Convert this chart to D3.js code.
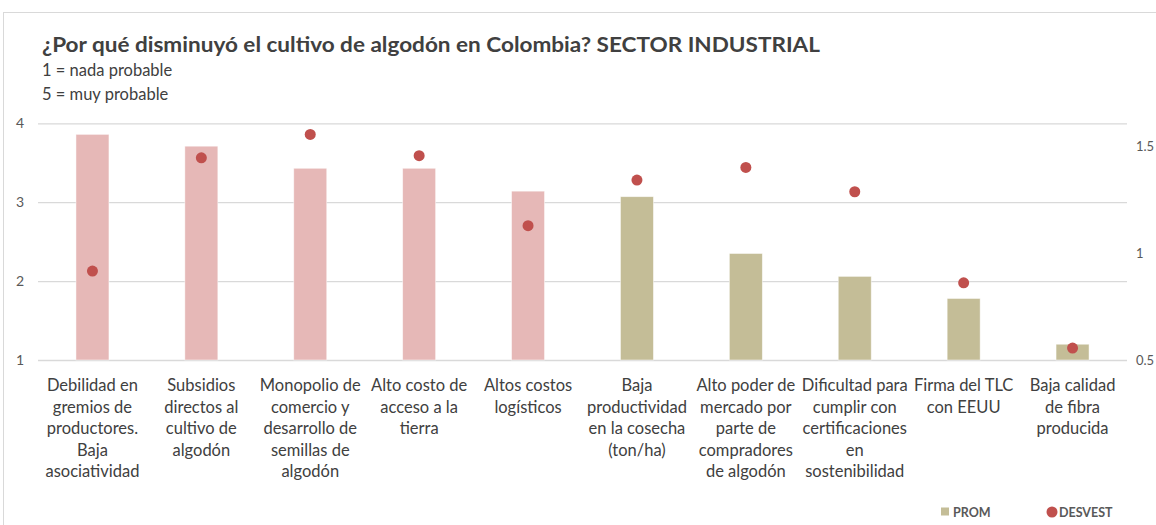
<!DOCTYPE html>
<html>
<head>
<meta charset="utf-8">
<script src="https://cdn.jsdelivr.net/npm/d3@7"></script>
<style>
  html, body { margin: 0; padding: 0; background: #fff; }
  svg { display: block; font-family: "Lato", "Open Sans", sans-serif; }
</style>
</head>
<body>
<div id="chart"></div>
<script>
// categorías (cada etiqueta ya partida en líneas como en el gráfico original)
var categorias = [
  ["Debilidad en", "gremios de", "productores.", "Baja", "asociatividad"],
  ["Subsidios", "directos al", "cultivo de", "algodón"],
  ["Monopolio de", "comercio y", "desarrollo de", "semillas de", "algodón"],
  ["Alto costo de", "acceso a la", "tierra"],
  ["Altos costos", "logísticos"],
  ["Baja", "productividad", "en la cosecha", "(ton/ha)"],
  ["Alto poder de", "mercado por", "parte de", "compradores", "de algodón"],
  ["Dificultad para", "cumplir con", "certificaciones", "en", "sostenibilidad"],
  ["Firma del TLC", "con EEUU"],
  ["Baja calidad", "de fibra", "producida"]
];
// promedio (eje izquierdo)
var prom = [3.86, 3.71, 3.43, 3.43, 3.14, 3.07, 2.35, 2.06, 1.78, 1.20];
// desviación estándar (eje derecho)
var desvest = [0.917, 1.448, 1.558, 1.458, 1.130, 1.344, 1.403, 1.289, 0.862, 0.556];
// grupo de color de cada barra
var grupo = ["a", "a", "a", "a", "a", "b", "b", "b", "b", "b"];
var ticksIzq = [1, 2, 3, 4];
var ticksDer = [0.5, 1, 1.5];

var titulo = "¿Por qué disminuyó el cultivo de algodón en Colombia? SECTOR INDUSTRIAL";
var subtitulos = ["1 = nada probable", "5 = muy probable"];

var W = 1156, H = 525;
var plot = { left: 38, right: 1127, top: 123.3, bottom: 360 };
var colores = { a: "#e6b8b7", b: "#c4bd97" };
var rojo = "#c0504d";

var svg = d3.select("#chart").append("svg")
    .attr("width", W)
    .attr("height", H);

// marco del gráfico
svg.append("rect")
    .attr("x", 3.5).attr("y", 12.5)
    .attr("width", W + 10).attr("height", H)
    .attr("fill", "none")
    .attr("stroke", "#d9d9d9")
    .attr("stroke-width", 1);

var nombres = categorias.map(function (c) { return c.join(" "); });

var x = d3.scaleBand()
    .domain(nombres)
    .range([plot.left, plot.right])
    .paddingInner(0.697)
    .paddingOuter(0.3485);

var y = d3.scaleLinear()
    .domain([1, 4])
    .range([plot.bottom, plot.top]);

var y2 = d3.scaleLinear()
    .domain([0.5, 1.61])
    .range([plot.bottom, plot.top]);

// líneas de cuadrícula
var grid = svg.append("g")
    .attr("transform", "translate(" + plot.left + ",0)")
    .call(d3.axisLeft(y).tickValues(ticksIzq).tickSize(-(plot.right - plot.left)).tickFormat(""));
grid.select(".domain").remove();
grid.selectAll("line").attr("stroke", "#d9d9d9").attr("stroke-width", 1.3);

// eje izquierdo
var ejeIzq = svg.append("g")
    .attr("transform", "translate(" + plot.left + ",0)")
    .call(d3.axisLeft(y).tickValues(ticksIzq).tickSize(0).tickPadding(14)
        .tickFormat(function (d) { return String(d); }));
ejeIzq.select(".domain").remove();
ejeIzq.selectAll("text")
    .attr("fill", "#595959")
    .style("font-size", "14px")
    .style("font-family", "Lato, sans-serif");

// eje derecho
var ejeDer = svg.append("g")
    .attr("transform", "translate(" + plot.right + ",0)")
    .call(d3.axisRight(y2).tickValues(ticksDer).tickSize(0).tickPadding(9)
        .tickFormat(function (d) { return String(d); }));
ejeDer.select(".domain").remove();
ejeDer.selectAll("text")
    .attr("fill", "#595959")
    .style("font-size", "13px")
    .style("font-family", "Lato, sans-serif");

// barras PROM
svg.append("g").selectAll("rect")
    .data(prom)
    .enter()
    .append("rect")
    .attr("x", function (d, i) { return x(nombres[i]); })
    .attr("y", function (d) { return y(d); })
    .attr("width", x.bandwidth())
    .attr("height", function (d) { return y(1) - y(d); })
    .attr("fill", function (d, i) { return colores[grupo[i]]; })
    .attr("stroke", "#fff")
    .attr("stroke-opacity", 0.6)
    .attr("stroke-width", 0.8);

// puntos DESVEST
svg.append("g").selectAll("circle")
    .data(desvest)
    .enter()
    .append("circle")
    .attr("cx", function (d, i) { return x(nombres[i]) + x.bandwidth() / 2; })
    .attr("cy", function (d) { return y2(d); })
    .attr("r", 5.5)
    .attr("fill", rojo);

// etiquetas de categoría
var etiquetas = svg.append("g").selectAll("text")
    .data(categorias)
    .enter()
    .append("text")
    .attr("text-anchor", "middle")
    .attr("fill", "#404040")
    .style("font-size", "16.5px");
etiquetas.selectAll("tspan")
    .data(function (d, i) { return d.map(function (l) { return { l: l, i: i }; }); })
    .enter()
    .append("tspan")
    .attr("x", function (d) { return x(nombres[d.i]) + x.bandwidth() / 2; })
    .attr("y", function (d, j) { return 391 + j * 21.5; })
    .text(function (d) { return d.l; });

// título
svg.append("text")
    .attr("x", 42).attr("y", 52)
    .attr("fill", "#404040")
    .style("font-size", "21px")
    .style("font-weight", "bold")
    .attr("textLength", 778)
    .attr("lengthAdjust", "spacingAndGlyphs")
    .text(titulo);

svg.append("g").selectAll("text")
    .data(subtitulos)
    .enter()
    .append("text")
    .attr("x", 42)
    .attr("y", function (d, i) { return 76 + i * 24; })
    .attr("fill", "#404040")
    .style("font-size", "16.5px")
    .text(function (d) { return d; });

// leyenda
var leyenda = svg.append("g").attr("transform", "translate(0,512)");
leyenda.append("rect")
    .attr("x", 941).attr("y", -4.5)
    .attr("width", 8).attr("height", 8)
    .attr("fill", colores.b);
leyenda.append("text")
    .attr("x", 953).attr("y", 4.5)
    .attr("fill", "#595959")
    .style("font-size", "12.5px")
    .style("font-weight", "bold")
    .text("PROM");
leyenda.append("circle")
    .attr("cx", 1052).attr("cy", 0)
    .attr("r", 5.5)
    .attr("fill", rojo);
leyenda.append("text")
    .attr("x", 1059).attr("y", 4.5)
    .attr("fill", "#595959")
    .style("font-size", "12.5px")
    .style("font-weight", "bold")
    .text("DESVEST");
</script>
</body>
</html>
